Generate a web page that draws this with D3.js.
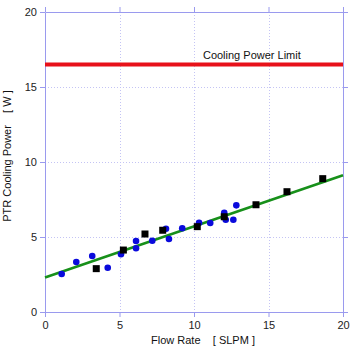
<!DOCTYPE html>
<html>
<head>
<meta charset="utf-8">
<script src="https://cdn.jsdelivr.net/npm/d3@7"></script>
<style>
  html, body { margin: 0; padding: 0; background: #fff; }
  svg { display: block; font-family: "Liberation Sans", Arial, Helvetica, sans-serif; }
</style>
</head>
<body>
<div id="viz"></div>
<script>
// ---- Data ----
const blueX = [1.12, 2.10, 3.17, 4.21, 5.10, 6.11, 6.11, 7.20, 8.12, 8.32, 9.21, 10.34, 11.09, 12.03, 12.13, 12.64, 12.84];
const blueY = [2.53, 3.33, 3.73, 2.95, 3.85, 4.73, 4.25, 4.75, 5.55, 4.87, 5.58, 5.95, 5.93, 6.62, 6.15, 6.15, 7.11];
const squareX = [3.44, 5.26, 6.71, 7.90, 10.22, 12.03, 14.16, 16.24, 18.64];
const squareY = [2.89, 4.13, 5.20, 5.45, 5.69, 6.35, 7.15, 8.02, 8.89];
const fitX = [0, 20];
const fitY = [2.30, 9.12];
const limitValue = 16.5;
const limitLabel = 'Cooling Power Limit';
const xTicks = [0, 5, 10, 15, 20];
const yTicks = [0, 5, 10, 15, 20];

// ---- Layout ----
const W = 359, H = 352;
const plot = { left: 45, right: 343, top: 12, bottom: 312 };
const frameColor = '#9a9aee';
const gridColor = '#c4c4f4';

const x = d3.scaleLinear().domain([0, 20]).range([plot.left, plot.right]);
const y = d3.scaleLinear().domain([0, 20]).range([plot.bottom, plot.top]);

const svg = d3.select('#viz').append('svg')
  .attr('width', W).attr('height', H)
  .attr('viewBox', `0 0 ${W} ${H}`);

// Grid (dotted)
const grid = svg.append('g').attr('stroke', gridColor).attr('stroke-width', 1).attr('stroke-dasharray', '1,2');
grid.selectAll('line.gx').data(xTicks.slice(1, -1)).join('line')
  .attr('class', 'gx')
  .attr('x1', d => Math.round(x(d)) + 0.5).attr('x2', d => Math.round(x(d)) + 0.5)
  .attr('y1', plot.top).attr('y2', plot.bottom);
grid.selectAll('line.gy').data(yTicks.slice(1, -1)).join('line')
  .attr('class', 'gy')
  .attr('x1', plot.left).attr('x2', plot.right)
  .attr('y1', d => Math.round(y(d)) + 0.5).attr('y2', d => Math.round(y(d)) + 0.5);

// Axes on all four sides, ticks pointing out
const axisStyle = g => {
  g.selectAll('.domain').attr('stroke', frameColor);
  g.selectAll('.tick line').attr('stroke', frameColor);
  g.selectAll('.tick text').attr('fill', '#222').style('font-size', '11px')
    .style('font-family', '"Liberation Sans", Arial, sans-serif');
};
svg.append('g').attr('transform', `translate(0,${plot.bottom})`)
  .call(d3.axisBottom(x).tickValues(xTicks).tickSizeInner(5).tickSizeOuter(0).tickPadding(4))
  .call(axisStyle);
svg.append('g').attr('transform', `translate(${plot.left},0)`)
  .call(d3.axisLeft(y).tickValues(yTicks).tickSizeInner(5).tickSizeOuter(0).tickPadding(3))
  .call(axisStyle);
svg.append('g').attr('transform', `translate(0,${plot.top})`)
  .call(d3.axisTop(x).tickValues(xTicks).tickSizeInner(5).tickSizeOuter(0).tickFormat(''))
  .call(axisStyle);
svg.append('g').attr('transform', `translate(${plot.right},0)`)
  .call(d3.axisRight(y).tickValues(yTicks).tickSizeInner(5).tickSizeOuter(0).tickFormat(''))
  .call(axisStyle);

// Cooling power limit
svg.append('line')
  .attr('x1', x(0)).attr('x2', x(20))
  .attr('y1', y(limitValue)).attr('y2', y(limitValue))
  .attr('stroke', '#e8111a').attr('stroke-width', 4);
svg.append('text')
  .attr('x', x(10.6)).attr('y', y(limitValue) - 6)
  .attr('fill', '#111').style('font-size', '11px')
  .text(limitLabel);

// Linear fit
const line = d3.line().x(d => x(d[0])).y(d => y(d[1]));
svg.append('path')
  .datum(d3.zip(fitX, fitY))
  .attr('d', line)
  .attr('fill', 'none').attr('stroke', '#17901a').attr('stroke-width', 2.6);

// Blue circles
svg.append('g').selectAll('circle').data(d3.zip(blueX, blueY)).join('circle')
  .attr('cx', d => x(d[0])).attr('cy', d => y(d[1])).attr('r', 3.3)
  .attr('fill', '#0a0adc');

// Black squares
const s = 7;
svg.append('g').selectAll('rect').data(d3.zip(squareX, squareY)).join('rect')
  .attr('x', d => x(d[0]) - s / 2).attr('y', d => y(d[1]) - s / 2)
  .attr('width', s).attr('height', s)
  .attr('fill', '#000');

// Axis titles
svg.append('text')
  .attr('x', 203).attr('y', 344)
  .attr('text-anchor', 'middle')
  .attr('fill', '#111').style('font-size', '11px').style('white-space', 'pre')
  .text('Flow Rate    [ SLPM ]');
svg.append('text')
  .attr('transform', `translate(11,156) rotate(-90)`)
  .attr('text-anchor', 'middle')
  .attr('fill', '#111').style('font-size', '11px').style('white-space', 'pre')
  .text('PTR Cooling Power    [ W ]');
</script>
</body>
</html>
